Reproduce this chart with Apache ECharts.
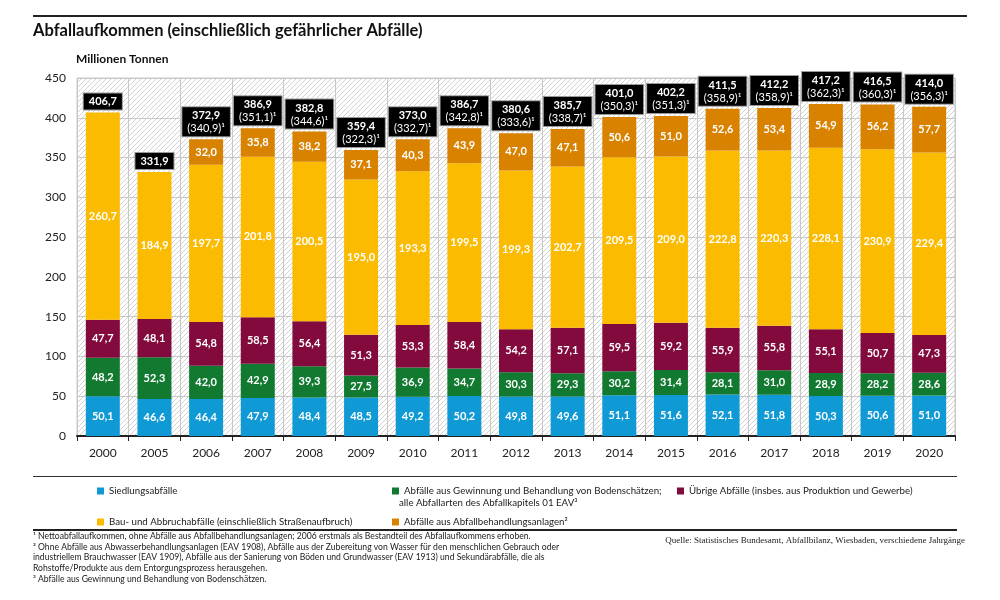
<!DOCTYPE html>
<html>
<head>
<meta charset="utf-8">
<script src="https://cdn.jsdelivr.net/npm/echarts@6/dist/echarts.min.js"></script>
<style>html,body{margin:0;padding:0;background:#fff}#c{width:1000px;height:600px}</style>
</head>
<body>
<div id="c"></div>
<script>
const years = ['2000','2005','2006','2007','2008','2009','2010','2011','2012','2013','2014','2015','2016','2017','2018','2019','2020'];
const siedlung = [50.1,46.6,46.4,47.9,48.4,48.5,49.2,50.2,49.8,49.6,51.1,51.6,52.1,51.8,50.3,50.6,51.0];
const bergbau = [48.2,52.3,42.0,42.9,39.3,27.5,36.9,34.7,30.3,29.3,30.2,31.4,28.1,31.0,28.9,28.2,28.6];
const uebrige = [47.7,48.1,54.8,58.5,56.4,51.3,53.3,58.4,54.2,57.1,59.5,59.2,55.9,55.8,55.1,50.7,47.3];
const bau = [260.7,184.9,197.7,201.8,200.5,195.0,193.3,199.5,199.3,202.7,209.5,209.0,222.8,220.3,228.1,230.9,229.4];
const behandlung = [null,null,32.0,35.8,38.2,37.1,40.3,43.9,47.0,47.1,50.6,51.0,52.6,53.4,54.9,56.2,57.7];
const totals = [406.7,331.9,372.9,386.9,382.8,359.4,373.0,386.7,380.6,385.7,401.0,402.2,411.5,412.2,417.2,416.5,414.0];
const netto = [null,null,340.9,351.1,344.6,322.3,332.7,342.8,333.6,338.7,350.3,351.3,358.9,358.9,362.3,360.3,356.3];

const names = [
  'Siedlungsabfälle',
  'Abfälle aus Gewinnung und Behandlung von Bodenschätzen;',
  'Übrige Abfälle (insbes. aus Produktion und Gewerbe)',
  'Bau- und Abbruchabfälle (einschließlich Straßenaufbruch)',
  'Abfälle aus Abfallbehandlungsanlagen²'
];
const colors = ['#0f9ad6','#127a30','#820a3c','#fbbb00','#d88200'];

const FONT = 'Lato, "Noto Sans", sans-serif';
const fmt = v => v.toFixed(1).replace('.', ',');

// hatched background pattern
const pc = document.createElement('canvas');
pc.width = 5; pc.height = 5;
const pctx = pc.getContext('2d');
pctx.fillStyle = '#ffffff'; pctx.fillRect(0,0,5,5);
pctx.strokeStyle = '#d2d2d2'; pctx.lineWidth = 1;
pctx.beginPath();
pctx.moveTo(0,5); pctx.lineTo(5,0);
pctx.moveTo(-1,1); pctx.lineTo(1,-1);
pctx.moveTo(4,6); pctx.lineTo(6,4);
pctx.stroke();

const dataArrays = [siedlung, bergbau, uebrige, bau, behandlung];
const series = dataArrays.map((arr, i) => ({
  name: names[i],
  type: 'bar',
  stack: 'a',
  barWidth: 34,
  data: arr.map(v => v == null ? '-' : v),
  itemStyle: { color: colors[i] },
  label: {
    show: true, position: 'inside', color: '#fff', fontWeight: 'bold',
    fontSize: 11, fontFamily: FONT,
    formatter: p => fmt(p.value)
  },
  emphasis: { disabled: true }
}));
series.push({
  name: 'Gesamt',
  type: 'bar',
  stack: 'a',
  barWidth: 34,
  data: totals.map(() => 0),
  itemStyle: { color: 'transparent' },
  z: 5,
  label: {
    show: true, position: 'top', distance: 3,
    backgroundColor: '#000', borderColor: '#9a9a9a', borderWidth: 1,
    padding: [2, 5, 1, 5],
    formatter: p => {
      const i = p.dataIndex;
      let s = '{t|' + fmt(totals[i]) + '}';
      if (netto[i] != null) s += '\n{n|(' + fmt(netto[i]) + ')¹}';
      return s;
    },
    rich: {
      t: { color: '#fff', fontWeight: 'bold', fontSize: 11, lineHeight: 13, fontFamily: FONT, align: 'center' },
      n: { color: '#fff', fontWeight: 'normal', fontSize: 11, lineHeight: 13, fontFamily: FONT, align: 'center' }
    }
  },
  emphasis: { disabled: true }
});

const legendBase = {
  icon: 'rect', itemWidth: 7, itemHeight: 7, itemGap: 0,
  selectedMode: false,
  textStyle: { fontSize: 9.7, color: '#1a1a1a', fontFamily: FONT }
};
const footLines = [
  '¹ Nettoabfallaufkommen, ohne Abfälle aus Abfallbehandlungsanlagen; 2006 erstmals als Bestandteil des Abfallaufkommens erhoben.',
  '² Ohne Abfälle aus Abwasserbehandlungsanlagen (EAV 1908), Abfälle aus der Zubereitung von Wasser für den menschlichen Gebrauch oder',
  'industriellem Brauchwasser (EAV 1909), Abfälle aus der Sanierung von Böden und Grundwasser (EAV 1913) und Sekundärabfälle, die als',
  'Rohstoffe/Produkte aus dem Entorgungsprozess herausgehen.',
  '³ Abfälle aus Gewinnung und Behandlung von Bodenschätzen.'
];

const graphics = [
  { type: 'line', shape: { x1: 33, y1: 16, x2: 967, y2: 16 }, style: { stroke: '#222', lineWidth: 2 } },
  { type: 'text', x: 33, y: 31, style: { text: 'Abfallaufkommen (einschließlich gefährlicher Abfälle)', fontSize: 16.5, fontWeight: 'bold', fontFamily: FONT, fill: '#111', textVerticalAlign: 'middle' } },
  { type: 'text', x: 76, y: 59, style: { text: 'Millionen Tonnen', fontSize: 12, fontWeight: 'bold', fontFamily: FONT, fill: '#111', textVerticalAlign: 'middle' } },
  { type: 'line', shape: { x1: 33, y1: 476.5, x2: 957, y2: 476.5 }, style: { stroke: '#333', lineWidth: 1 } },
  { type: 'line', shape: { x1: 33, y1: 530, x2: 957, y2: 530 }, style: { stroke: '#222', lineWidth: 2 } },
  { type: 'text', x: 399, y: 503, style: { text: 'alle Abfallarten des Abfallkapitels 01 EAV³', fontSize: 9.7, fontFamily: FONT, fill: '#1a1a1a', textVerticalAlign: 'middle' } },
  { type: 'text', x: 965, y: 541, style: { text: 'Quelle: Statistisches Bundesamt, Abfallbilanz, Wiesbaden, verschiedene Jahrgänge', fontSize: 9, fontFamily: '"Liberation Serif", "DejaVu Serif", serif', fill: '#222', textAlign: 'right', textVerticalAlign: 'middle' } }
];
footLines.forEach((t, i) => {
  graphics.push({ type: 'text', x: 33, y: 536 + i * 10.8, style: { text: t, fontSize: 8.6, fontFamily: FONT, fill: '#1a1a1a', textVerticalAlign: 'middle' } });
});

const chart = echarts.init(document.getElementById('c'), null, { renderer: 'canvas' });
chart.setOption({
  animation: false,
  backgroundColor: '#fff',
  color: colors,
  grid: {
    left: 77, right: 45, top: 78, bottom: 164,
    show: true, borderWidth: 1, borderColor: '#c8c8c8',
    backgroundColor: { image: pc, repeat: 'repeat' }
  },
  xAxis: {
    type: 'category', data: years,
    axisLine: { lineStyle: { color: '#222', width: 2 } },
    axisTick: { show: true, length: 5, lineStyle: { color: '#222', width: 1 } },
    axisLabel: { color: '#222', fontSize: 12, margin: 11, fontFamily: FONT },
    splitLine: { show: true, lineStyle: { color: '#c8c8c8', width: 1 } }
  },
  yAxis: {
    type: 'value', min: 0, max: 450, interval: 50,
    axisLine: { show: false }, axisTick: { show: false },
    axisLabel: { color: '#222', fontSize: 12, margin: 11, fontFamily: FONT },
    splitLine: { lineStyle: { color: '#c8c8c8', width: 1 } }
  },
  legend: [
    Object.assign({}, legendBase, { data: [names[0]], left: 92, top: 481 }),
    Object.assign({}, legendBase, { data: [names[1]], left: 387, top: 481 }),
    Object.assign({}, legendBase, { data: [names[2]], left: 672, top: 481 }),
    Object.assign({}, legendBase, { data: [names[3]], left: 92, top: 512 }),
    Object.assign({}, legendBase, { data: [names[4]], left: 387, top: 512 })
  ],
  graphic: graphics,
  series: series
});
</script>
</body>
</html>
